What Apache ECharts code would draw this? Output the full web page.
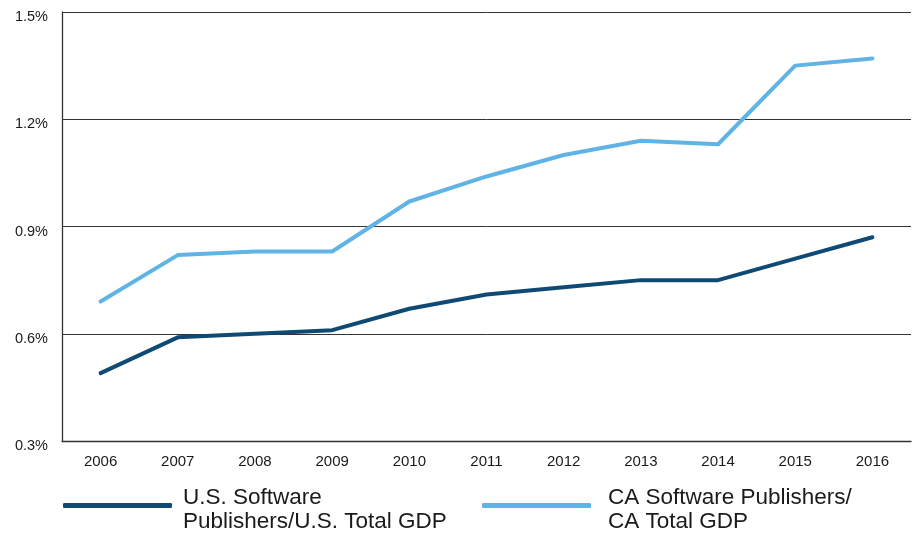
<!DOCTYPE html>
<html><head><meta charset="utf-8">
<script src="https://cdn.jsdelivr.net/npm/echarts@6/dist/echarts.min.js"></script>
<style>html,body{margin:0;padding:0;background:#fff}#c{width:912px;height:534px}</style>
</head><body><div id="c"></div>
<script>
const years = ['2006','2007','2008','2009','2010','2011','2012','2013','2014','2015','2016'];
const usValues = [0.49,0.59,0.60,0.61,0.67,0.71,0.73,0.75,0.75,0.81,0.87];
const caValues = [0.69,0.82,0.83,0.83,0.97,1.04,1.10,1.14,1.13,1.35,1.37];
const usName = 'U.S. Software\nPublishers/U.S. Total GDP';
const caName = 'CA Software Publishers/\nCA Total GDP';
const yTicks = [0.3,0.6,0.9,1.2,1.5];

const chart = echarts.init(document.getElementById('c'));
const font = 'Liberation Sans, Arial, sans-serif';
function legendFor(name, left, padLeft) {
  return {
    top: 476, left: left, data: [name], itemWidth: 109, itemHeight: 5, icon: 'roundRect', itemGap: 0,
    selectedMode: false,
    formatter: n => '{s| }\n' + n.split('\n').map(l => '{a|' + l + '}').join('\n'),
    textStyle: {
      padding: [0,0,0,padLeft],
      rich: {
        s: {fontSize: 1, lineHeight: 9},
        a: {fontFamily: font, fontSize: 22.5, color: '#1a1a1a', lineHeight: 24}
      }
    }
  };
}
chart.setOption({
  animation: false,
  grid: {left: 62, right: 1, top: 12, bottom: 93},
  legend: [legendFor(usName, 58, 6), legendFor(caName, 477, 12)],
  xAxis: {
    type: 'category', data: years, boundaryGap: true,
    axisLine: {lineStyle: {color: '#333', width: 1.3}},
    axisTick: {inside: true, length: 10, lineStyle: {color: '#333', width: 1}},
    axisLabel: {fontFamily: font, fontSize: 15, color: '#1a1a1a', margin: 13}
  },
  yAxis: {
    type: 'value', min: 0.3, max: 1.5, interval: 0.3,
    axisLine: {show: true, lineStyle: {color: '#333', width: 1.3}},
    axisTick: {show: false},
    splitLine: {lineStyle: {color: '#333', width: 1}},
    axisLabel: {fontFamily: font, fontSize: 14.5, color: '#1a1a1a', margin: 14, verticalAlign: 'top', lineHeight: 10,
      formatter: v => yTicks.includes(Math.round(v*10)/10) ? v.toFixed(1) + '%' : ''}
  },
  series: [
    {name: usName, type: 'line', data: usValues, symbol: 'none',
     lineStyle: {color: '#0f4a74', width: 4, cap: 'round', join: 'round'}, itemStyle: {color: '#0f4a74'}},
    {name: caName, type: 'line', data: caValues, symbol: 'none',
     lineStyle: {color: '#5fb4e5', width: 4, cap: 'round', join: 'round'}, itemStyle: {color: '#5fb4e5'}}
  ]
});
</script></body></html>
